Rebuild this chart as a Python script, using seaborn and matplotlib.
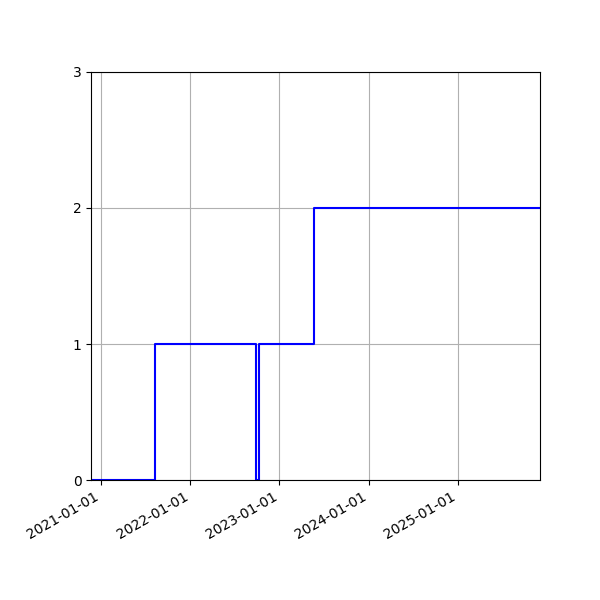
import pandas as pd
import seaborn as sns
import matplotlib
matplotlib.use("Agg")
import matplotlib.pyplot as plt
import matplotlib.dates as mdates

# Step changes (value holds from each date until the next)
dates = ['2020-11-21', '2021-08-10', '2022-09-28', '2022-10-11', '2023-05-24', '2025-12-03']
values = [0, 1, 0, 1, 2, 2]

df = pd.DataFrame({'date': pd.to_datetime(dates), 'value': values})

sns.set_style("white")
fig = plt.figure(figsize=(6, 6), dpi=100)
ax = fig.add_axes([0.152, 0.2, 0.748, 0.68])

sns.lineplot(x='date', y='value', data=df, ax=ax, color='blue',
             drawstyle='steps-post', linewidth=1.5)

ax.set_xlim(df['date'].min(), df['date'].max())
ax.set_ylim(0, 3)
ax.set_yticks([0, 1, 2, 3])
ax.xaxis.set_major_locator(mdates.YearLocator())
ax.xaxis.set_major_formatter(mdates.DateFormatter('%Y-%m-%d'))
ax.grid(True, color='#b0b0b0', linewidth=0.8)
ax.set_xlabel('')
ax.set_ylabel('')
for s in ax.spines.values():
    s.set_color('black')
    s.set_linewidth(0.8)
ax.tick_params(axis='both', direction='out', length=3.5, width=0.8,
               colors='black', labelsize=10, bottom=True, left=True)
plt.setp(ax.get_xticklabels(), rotation=30, ha='right')

fig.savefig('out.png', dpi=100)
